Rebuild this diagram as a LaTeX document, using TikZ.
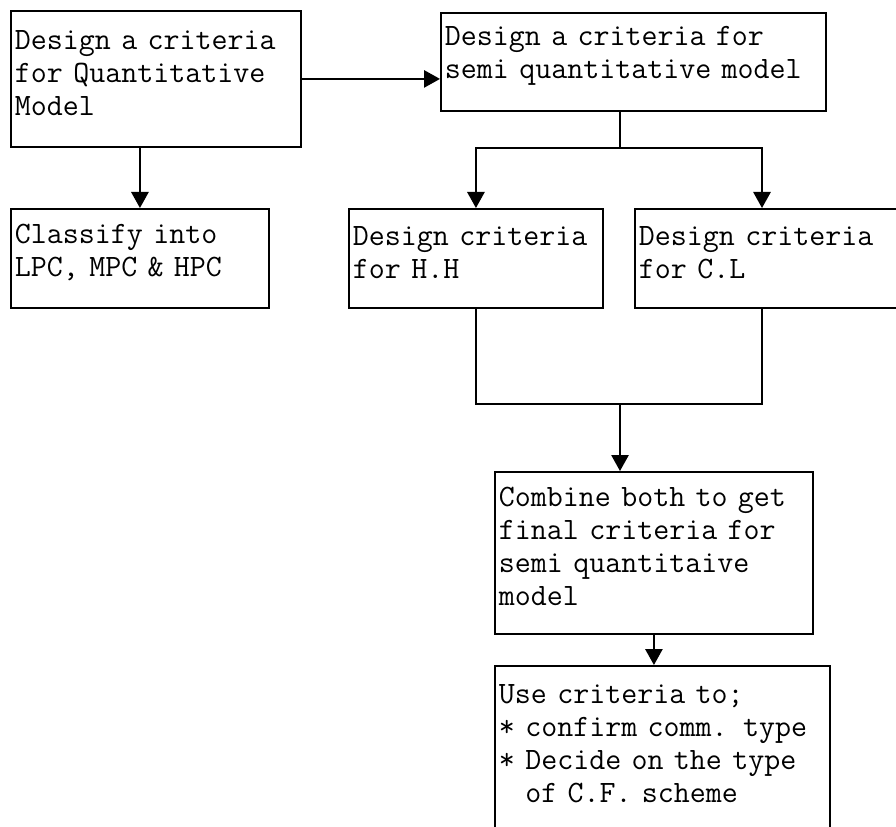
\documentclass[tikz,border=0pt]{standalone}
\usepackage{tikz}
\usetikzlibrary{arrows.meta}

\tikzset{
  box/.style={draw, line width=1.4pt, rectangle, anchor=north west, align=left,
    inner xsep=3pt, inner ysep=0pt, text height=5pt,
    font=\ttfamily\fontsize{23.3}{24.8}\selectfont},
  link/.style={line width=1.3pt}
}

\begin{document}
\begin{tikzpicture}[x=0.75pt,y=-0.75pt,>={Triangle[length=12pt,width=13pt]}]
  \useasboundingbox (0,0) rectangle (896,827);
  \clip (0,0) rectangle (896,827);

  % boxes
  \node[box, minimum width=217.5pt, text width=211.5pt, minimum height=102pt]
    (quant) at (10,10) {Design a criteria\\for Quantitative\\Model};
  \node[box, minimum width=288.5pt, text width=282.5pt, minimum height=73.5pt]
    (semi) at (440,12) {Design a criteria for\\semi quantitative model};
  \node[box, minimum width=193.5pt, text width=187.5pt, minimum height=74.25pt]
    (classify) at (10,208) {Classify into\\LPC, MPC \& HPC};
  \node[box, minimum width=190.5pt, text width=184.5pt, minimum height=74.25pt]
    (hh) at (348,208) {Design criteria\\for H.H};
  \node[box, minimum width=202.5pt, text width=196.5pt, minimum height=74.25pt]
    (cl) at (634,208) {Design criteria\\for C.L};
  \node[box, minimum width=238.5pt, text width=232.5pt, minimum height=121.5pt]
    (combine) at (494,471) {Combine both to get\\final criteria for\\semi quantitaive\\model};
  \node[box, minimum width=251.25pt, text width=245.25pt, minimum height=126pt]
    (use) at (494,665) {Use criteria to;\\{*} confirm comm. type\\{*} Decide on the type\\\phantom{*}\ of C.F. scheme};

  % junctions
  \coordinate (split) at (620,148);
  \coordinate (merge) at (620,404);
  \coordinate (clcol) at (762,0);

  % connectors
  \draw[link,->] (quant.east) -- (quant.east -| semi.west);
  \draw[link,->] (classify.north |- quant.south) -- (classify.north);
  \draw[link] (split |- semi.south) -- (split);
  \draw[link,->] (split) -| (hh.north);
  \draw[link,->] (split) -| (clcol |- cl.north);
  \draw[link] (hh.south) |- (merge);
  \draw[link] (clcol |- cl.south) |- (merge);
  \draw[link,->] (merge) -- (merge |- combine.north);
  \draw[link,->] (combine.south) -- (combine.south |- use.north);
\end{tikzpicture}
\end{document}
